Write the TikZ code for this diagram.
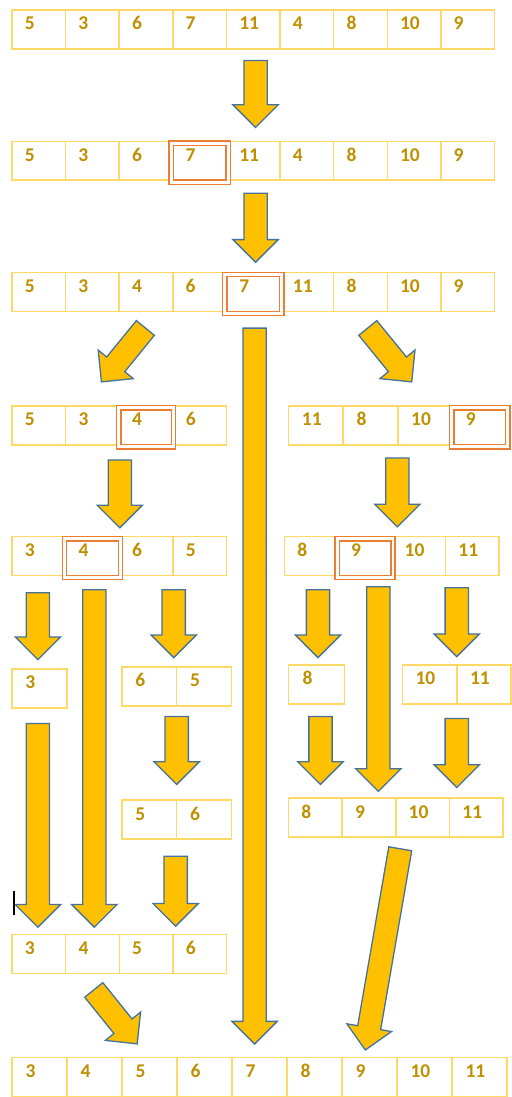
\documentclass[tikz,border=0pt]{standalone}
\usepackage{fontspec}
\setmainfont{Carlito}
\usetikzlibrary{shapes.arrows,calc}
\definecolor{cellyellow}{HTML}{FFD966}
\definecolor{numgold}{HTML}{BF9000}
\definecolor{pivotorange}{HTML}{ED7D31}
\definecolor{arrowgold}{HTML}{FFC000}
\definecolor{arrowblue}{HTML}{44729D}

\tikzset{
  cell/.style={draw=cellyellow, line width=1.5pt, minimum width=#1, minimum height=39pt,
    inner xsep=12pt, inner ysep=0pt, text width=28pt, align=left,
    text height=20pt, text depth=19pt, font=\fontsize{19.5}{21}\selectfont\bfseries, text=numgold},
  cell/.default=53.75pt,
  pivot/.style={draw=pivotorange, double=white, double distance=3pt, line width=1.4pt,
    minimum width=#1, minimum height=39pt, inner sep=0pt},
  pivot/.default=53.75pt,
  bigarrow/.style={single arrow, draw=arrowblue, fill=arrowgold, line width=1.3pt,
    inner xsep=0pt, inner ysep=11pt, single arrow head extend=11pt, single arrow tip angle=90}
}

% block arrow from tail #1 to tip #2
\newcommand{\blockarrow}[2]{%
  \path let \p1=(#1), \p2=(#2), \n1={atan2(\y2-\y1,\x2-\x1)}, \n2={veclen(\x2-\x1,\y2-\y1)} in
    node[bigarrow, minimum height=\n2, rotate=\n1, anchor=tail] at (#1) {};%
}

\begin{document}
\begin{tikzpicture}[x=1pt, y=-1pt]
      \path[fill=white] (0,0) rectangle (509,1097);

      % rows of numbers
      \foreach \v [count=\i] in {5,3,6,7,11,4,8,10,9}
        \node[cell] (a\i) at ({12+53.7*(\i-0.5)},29.5) {\v};
      \foreach \v [count=\i] in {5,3,6,7,11,4,8,10,9}
        \node[cell] (b\i) at ({12+53.7*(\i-0.5)},161) {\v};
      \foreach \v [count=\i] in {5,3,4,6,7,11,8,10,9}
        \node[cell] (c\i) at ({12+53.7*(\i-0.5)},292.5) {\v};
      \foreach \v [count=\i] in {5,3,4,6}
        \node[cell] (d\i) at ({12+53.75*(\i-0.5)},426) {\v};
      \foreach \v [count=\i] in {11,8,10,9}
        \node[cell=54.75pt] (e\i) at ({289+54.75*(\i-0.5)},426) {\v};
      \foreach \v [count=\i] in {3,4,6,5}
        \node[cell] (f\i) at ({12+53.75*(\i-0.5)},557) {\v};
      \foreach \v [count=\i] in {8,9,10,11}
        \node[cell] (g\i) at ({285+53.75*(\i-0.5)},557) {\v};
      \node[cell=55pt] (h1) at (39.5,689.5) {3};
      \foreach \v [count=\i] in {6,5}
        \node[cell=55pt] (i\i) at ({122+55*(\i-0.5)},687.5) {\v};
      \node[cell=56pt] (j1) at (317,685.5) {8};
      \foreach \v [count=\i] in {10,11}
        \node[cell=54.5pt] (k\i) at ({403+54.5*(\i-0.5)},685.5) {\v};
      \foreach \v [count=\i] in {5,6}
        \node[cell=55pt] (l\i) at ({122+55*(\i-0.5)},821) {\v};
      \foreach \v [count=\i] in {8,9,10,11}
        \node[cell] (m\i) at ({289+53.75*(\i-0.5)},819) {\v};
      \foreach \v [count=\i] in {3,4,5,6}
        \node[cell] (n\i) at ({12+53.75*(\i-0.5)},955.5) {\v};
      \foreach \v [count=\i] in {3,4,5,6,7,8,9,10,11}
        \node[cell=55.1pt] (o\i) at ({12+55.1*(\i-0.5)},1078.5) {\v};

      % pivots
      \node[pivot=57pt] (pb) at ($(b4)+(0,2)$) {};
      \node[pivot=57pt] (pc) at ($(c5)+(0,2)$) {};
      \node[pivot=55pt] (pd) at ($(d3)+(0,2)$) {};
      \node[pivot=56pt] (pe) at ($(e4)+(0,2)$) {};
      \node[pivot=56pt] (pf) at ($(f2)+(0,2)$) {};
      \node[pivot=56pt] (pg) at ($(g2)+(0,2)$) {};

      % arrow ends
      \coordinate (s1) at (256,60);     \coordinate (t1) at (256,127);
      \coordinate (s2) at (256,193);    \coordinate (t2) at (256,262);
      \coordinate (s3) at (146,328);    \coordinate (t3) at (102,382);
      \coordinate (s4) at (368,328);    \coordinate (t4) at (412,382);
      \coordinate (s5) at (255,328);    \coordinate (t5) at (255,1045);
      \coordinate (s6) at (120,460);    \coordinate (t6) at (120,528);
      \coordinate (s7) at (398,458);    \coordinate (t7) at (398,527);
      \coordinate (s8) at (38,593);     \coordinate (t8) at (38,660);
      \coordinate (s9) at (94.5,590);   \coordinate (t9) at (94.5,928);
      \coordinate (s10) at (174,590);   \coordinate (t10) at (174,658);
      \coordinate (s11) at (38,724);    \coordinate (t11) at (38,928);
      \coordinate (s12) at (177,717);   \coordinate (t12) at (177,785);
      \coordinate (s13) at (176,857);   \coordinate (t13) at (176,927);
      \coordinate (s14) at (318.5,590); \coordinate (t14) at (318.5,658);
      \coordinate (s15) at (379,587);   \coordinate (t15) at (379,792);
      \coordinate (s16) at (457.5,588); \coordinate (t16) at (457.5,657);
      \coordinate (s17) at (321,717);   \coordinate (t17) at (321,785);
      \coordinate (s18) at (457.5,719); \coordinate (t18) at (457.5,788);
      \coordinate (s19) at (401,849.5); \coordinate (t19) at (366,1051);
      \coordinate (s20) at (93.5,991);  \coordinate (t20) at (137,1045);

      \foreach \k in {1,...,20} {\blockarrow{s\k}{t\k}}

      % text cursor
      \coordinate (cur1) at (14,892);
      \coordinate (cur2) at (14,916);
      \draw[line width=1.1pt] (cur1) -- (cur2);
\end{tikzpicture}
\end{document}
